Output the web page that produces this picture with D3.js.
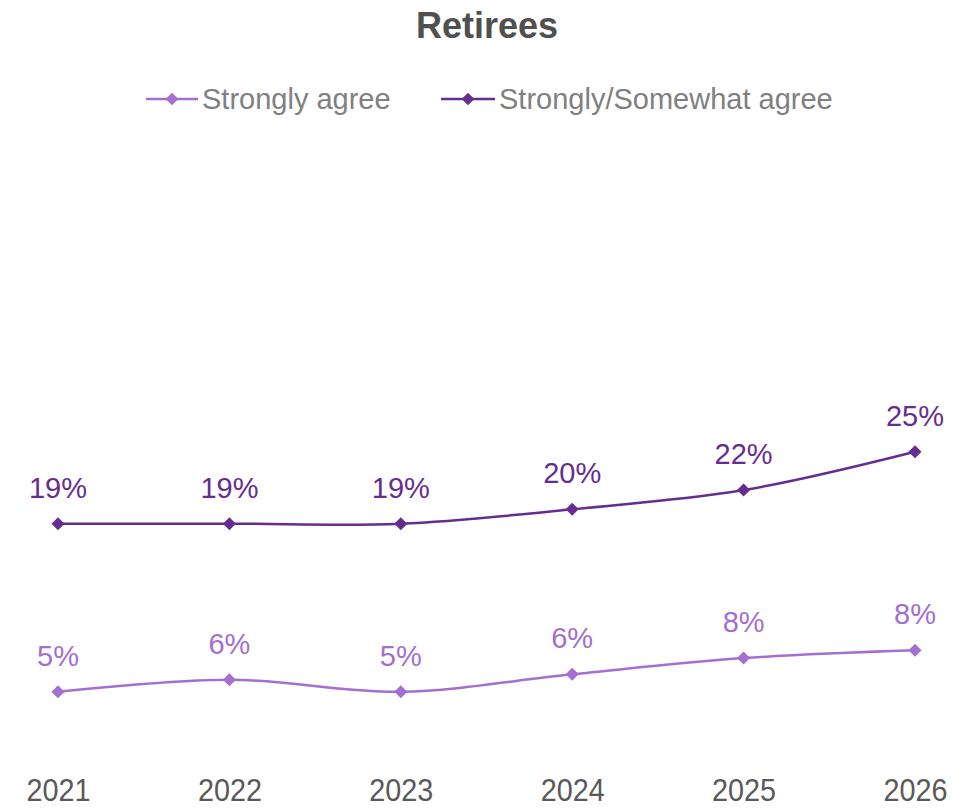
<!DOCTYPE html>
<html>
<head>
<meta charset="utf-8">
<script src="https://cdn.jsdelivr.net/npm/d3@7"></script>
<style>
  html, body { margin: 0; padding: 0; background: #ffffff; }
  svg { display: block; }
</style>
</head>
<body>
<svg id="chart" width="980" height="808"></svg>
<script>
const title = "Retirees";
const years = ["2021", "2022", "2023", "2024", "2025", "2026"];
const seriesNames = ["Strongly agree", "Strongly/Somewhat agree"];
const stronglyAgree = [5, 6, 5, 6.45, 7.8, 8.45];
const stronglyAgreeLabels = ["5%", "6%", "5%", "6%", "8%", "8%"];
const somewhatAgree = [19, 19, 19, 20.2, 21.8, 25];
const somewhatAgreeLabels = ["19%", "19%", "19%", "20%", "22%", "25%"];
const colors = ["#A46FD0", "#662D91"];

const svg = d3.select("#chart");

const x = d3.scalePoint().domain(years).range([58, 915]);
const y = d3.scaleLinear().domain([0, 30]).range([751.7, 391.7]);

// Title
svg.append("text")
  .attr("x", 487).attr("y", 38)
  .attr("text-anchor", "middle")
  .attr("font-family", "'Liberation Sans', Arial, sans-serif")
  .attr("font-weight", "bold")
  .attr("font-size", 36)
  .attr("fill", "#505050")
  .text(title);

// Legend
const legendItems = [
  { name: seriesNames[0], color: colors[0], x0: 146, x1: 198 },
  { name: seriesNames[1], color: colors[1], x0: 441, x1: 495 }
];
const diamond = d3.symbol().type(d3.symbolSquare).size(80);
const lg = svg.append("g");
legendItems.forEach(it => {
  lg.append("line")
    .attr("x1", it.x0).attr("x2", it.x1)
    .attr("y1", 99).attr("y2", 99)
    .attr("stroke", it.color).attr("stroke-width", 2.5);
  lg.append("path")
    .attr("d", diamond())
    .attr("transform", `translate(${(it.x0 + it.x1) / 2},99) rotate(45)`)
    .attr("fill", it.color);
  lg.append("text")
    .attr("x", it.x1 + 4).attr("y", 109)
    .attr("font-family", "'Liberation Sans', Arial, sans-serif")
    .attr("font-size", 29)
    .attr("fill", "#808080")
    .text(it.name);
});

// X axis labels
const xAxis = d3.axisBottom(x).tickSize(0).tickPadding(0);
const gx = svg.append("g").attr("transform", "translate(0,801)").call(xAxis);
gx.select(".domain").remove();
gx.selectAll("text")
  .attr("font-family", "'Liberation Sans', Arial, sans-serif")
  .attr("font-size", 32)
  .attr("fill", "#595959")
  .attr("dy", 0)
  .attr("textLength", 64)
  .attr("lengthAdjust", "spacingAndGlyphs");

// Lines
const line = d3.line()
  .x((d, i) => x(years[i]))
  .y(d => y(d))
  .curve(d3.curveCatmullRom.alpha(0));

const series = [
  { values: stronglyAgree, labels: stronglyAgreeLabels, color: colors[0] },
  { values: somewhatAgree, labels: somewhatAgreeLabels, color: colors[1] }
];

const markerSym = d3.symbol().type(d3.symbolSquare).size(85);

series.forEach(s => {
  svg.append("path")
    .datum(s.values)
    .attr("d", line)
    .attr("fill", "none")
    .attr("stroke", s.color)
    .attr("stroke-width", 2.5);

  svg.append("g").selectAll("path")
    .data(s.values)
    .join("path")
    .attr("d", markerSym())
    .attr("transform", (d, i) => `translate(${x(years[i])},${y(d)}) rotate(45)`)
    .attr("fill", s.color);

  svg.append("g").selectAll("text")
    .data(s.values)
    .join("text")
    .attr("x", (d, i) => x(years[i]))
    .attr("y", d => y(d) - 26)
    .attr("text-anchor", "middle")
    .attr("font-family", "'Liberation Sans', Arial, sans-serif")
    .attr("font-size", 29)
    .attr("fill", s.color)
    .text((d, i) => s.labels[i]);
});
</script>
</body>
</html>
